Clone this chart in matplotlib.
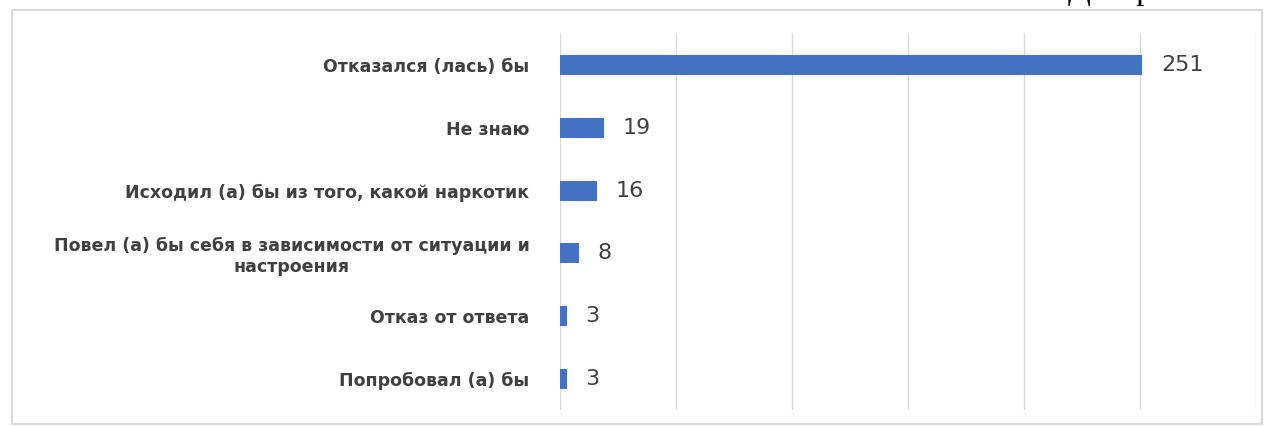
import matplotlib.pyplot as plt
from matplotlib.patches import Rectangle

categories = [
    "Отказался (лась) бы",
    "Не знаю",
    "Исходил (а) бы из того, какой наркотик",
    "Повел (а) бы себя в зависимости от ситуации и\nнастроения",
    "Отказ от ответа",
    "Попробовал (а) бы",
]
values = [251, 19, 16, 8, 3, 3]

W, H = 1276, 426
fig = plt.figure(figsize=(W / 100, H / 100), dpi=100)

# outer frame like the pasted chart
fig.patches.append(Rectangle((12 / W, 2 / H), 1250 / W, 414 / H, transform=fig.transFigure,
                             fill=False, edgecolor="#d9d9d9", linewidth=1.5))

# caption above the chart, only its lower edge shows as in the source
fig.text(1068 / W, 1 + 1 / H, "Диаграмма", family="Liberation Serif", fontsize=24,
         va="baseline", ha="left", color="black")

ax = fig.add_axes([560 / W, 1 - 410 / H, 696 / W, 376 / H])
y = list(range(len(categories)))
ax.barh(y, values, height=0.32, color="#4472C4", zorder=3)
for yi, v in zip(y, values):
    ax.text(v + 8, yi, str(v), va="center", ha="left", fontsize=16, color="#404040")

ax.set_xlim(0, 300)
ax.set_ylim(len(categories) - 0.5, -0.5)
ax.set_xticks(range(0, 301, 50))
ax.set_xticklabels([])
ax.tick_params(axis="x", length=0)
ax.tick_params(axis="y", length=0, pad=22)
ax.set_yticks(y)
ax.set_yticklabels(categories, fontsize=12.5, fontweight="bold", color="#404040")
for lab in ax.get_yticklabels():
    lab.set_multialignment("center")
ax.grid(axis="x", color="#d9d9d9", linewidth=1, zorder=0)
for s in ax.spines.values():
    s.set_visible(False)

fig.savefig("out.png", dpi=100)
